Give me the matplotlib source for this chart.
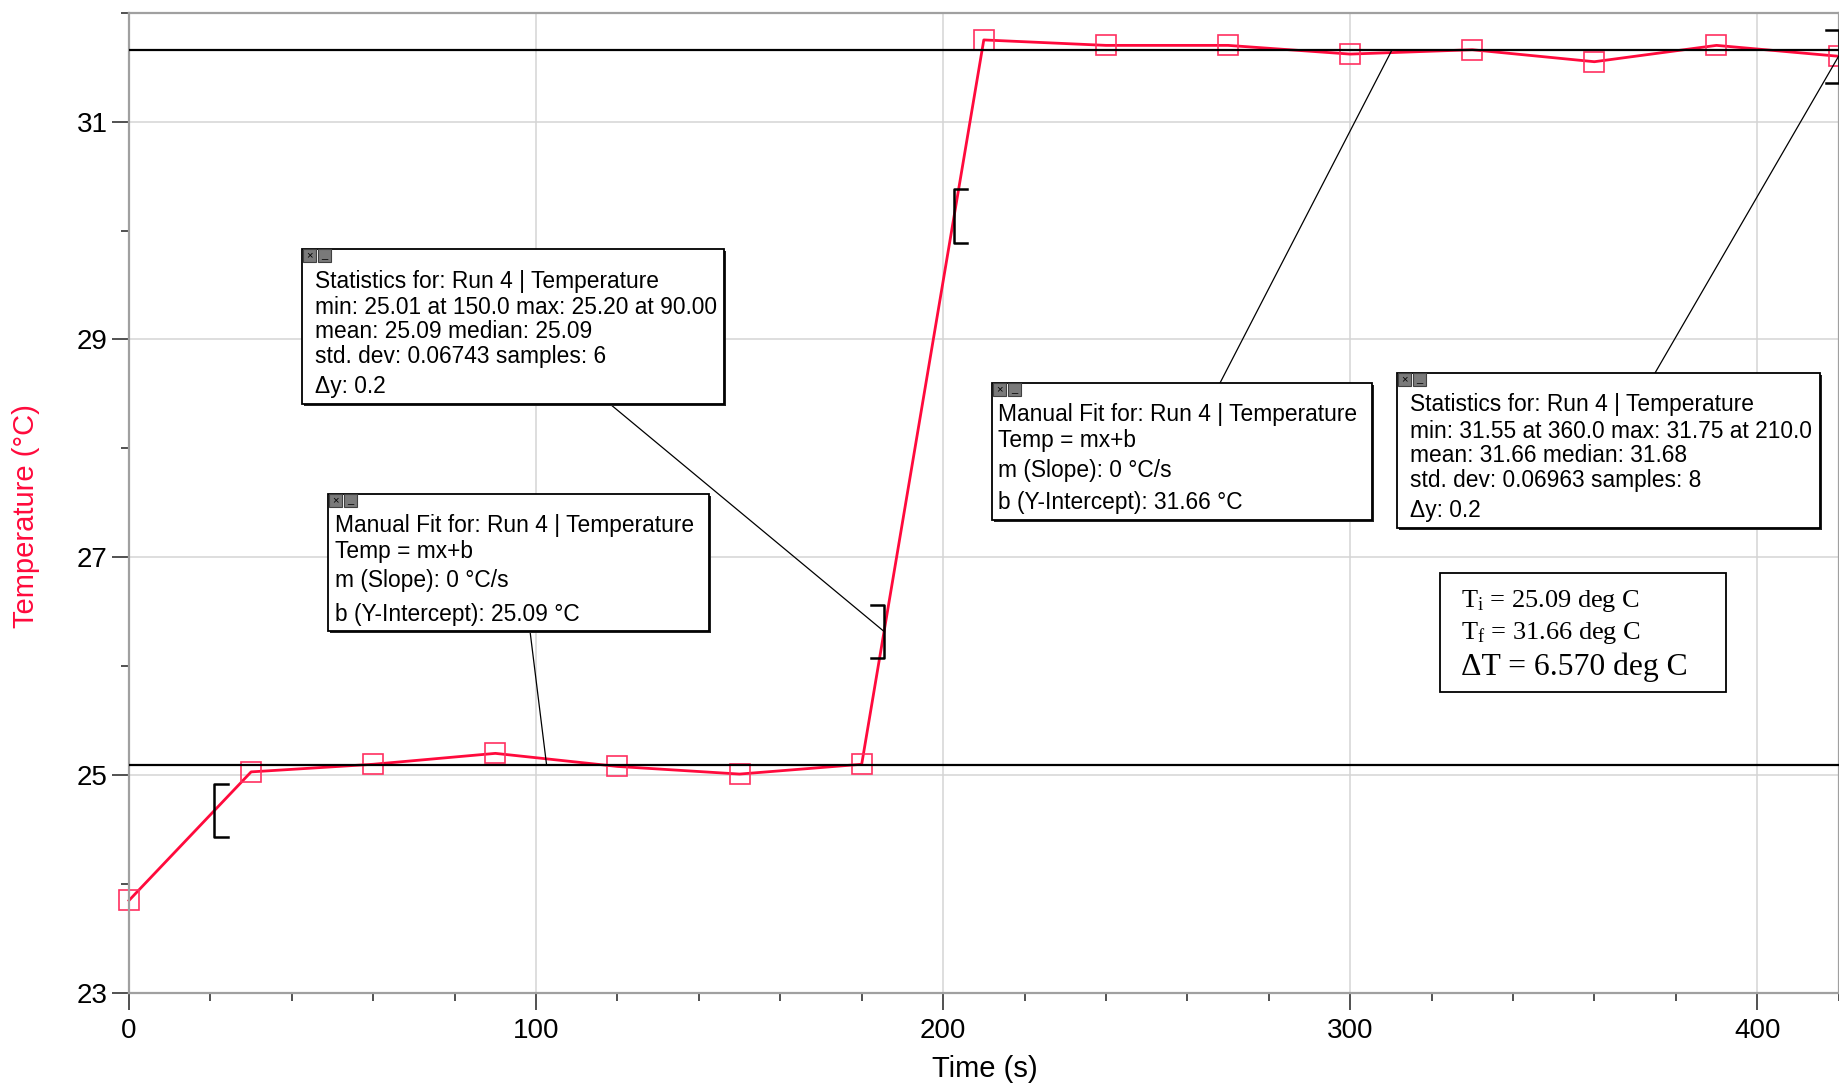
import numpy as np
import matplotlib
matplotlib.use('Agg')
import matplotlib.pyplot as plt
from matplotlib.patches import Rectangle

plt.rcParams['font.family'] = ['Liberation Sans', 'DejaVu Sans']
plt.rcParams['mathtext.fontset'] = 'custom'
plt.rcParams['mathtext.rm'] = 'Liberation Serif'
plt.rcParams['mathtext.it'] = 'Liberation Serif:italic'

"(1) data read off the run"
time_s = [0, 30, 60, 90, 120, 150, 180, 210, 240, 270, 300, 330, 360, 390, 420]
temp_c = [23.85, 25.03, 25.10, 25.20, 25.08, 25.01, 25.10,
          31.75, 31.70, 31.70, 31.62, 31.66, 31.55, 31.70, 31.60]

fit_b = [25.09, 31.66]                     # manual fits (slope 0)
sel_1 = [21.0, 185.5]                      # statistics selection 1 (s)
sel_2 = [202.7, 420.0]                     # statistics selection 2 (s)
fit_hook = [102.6, 310.3]                  # where the fit callouts touch the lines

x_major = [0, 100, 200, 300, 400]
y_major = [23, 25, 27, 29, 31]

stats_1 = ['Statistics for: Run 4 | Temperature',
           'min: 25.01 at 150.0 max: 25.20 at 90.00',
           'mean: 25.09 median: 25.09',
           'std. dev: 0.06743 samples: 6',
           '\u0394y: 0.2']
stats_2 = ['Statistics for: Run 4 | Temperature',
           'min: 31.55 at 360.0 max: 31.75 at 210.0',
           'mean: 31.66 median: 31.68',
           'std. dev: 0.06963 samples: 8',
           '\u0394y: 0.2']
fit_1 = ['Manual Fit for: Run 4 | Temperature', 'Temp = mx+b',
         'm (Slope): 0 \u00b0C/s', 'b (Y-Intercept): 25.09 \u00b0C']
fit_2 = ['Manual Fit for: Run 4 | Temperature', 'Temp = mx+b',
         'm (Slope): 0 \u00b0C/s', 'b (Y-Intercept): 31.66 \u00b0C']
summary = [r'T$_\mathrm{i}$ = 25.09 deg C', r'T$_\mathrm{f}$ = 31.66 deg C',
           '\u0394T = 6.570 deg C']

"(2) figure"
W, H = 1840, 1091
fig = plt.figure(figsize=(W / 100, H / 100), dpi=100)
ax = fig.add_axes([129 / W, 98 / H, (1838.6 - 129) / W, (993 - 12.7) / H])


def fx(x, y):
    # pixel (from top-left) -> figure fraction
    return x / W, 1 - y / H


red = '#ff0a3c'
ax.plot(time_s, temp_c, color=red, lw=2, zorder=2, clip_on=False)
ax.plot(time_s, temp_c, ls='none', marker='s', ms=14, mfc='none',
        mec='#ff3060', mew=1.2, zorder=2, clip_on=False)
for b in fit_b:
    ax.axhline(b, color='black', lw=1.6, zorder=3)

ax.set_xlim(0, 420)
ax.set_ylim(23, 32)
ax.set_xticks(x_major)
ax.set_xticks(np.arange(0, 421, 20), minor=True)
ax.set_yticks(y_major)
ax.set_yticks([24, 26, 28, 30, 32], minor=True)
ax.grid(True, which='major', color='#d4d4d4', lw=1.1)
ax.set_axisbelow(True)
ax.tick_params(which='major', length=12, width=1.2, color='#333333',
               labelsize=20, direction='out')
ax.tick_params(which='minor', length=6, width=1.2, color='#333333', direction='out')
ax.tick_params(axis='y', pad=3.5)
ax.tick_params(axis='x', pad=6)
for s in ax.spines.values():
    s.set_color('#a0a0a0')
    s.set_linewidth(1.6)

ax.set_xlabel('Time (s)', fontsize=21)
ax.set_ylabel('Temperature (\u00b0C)', fontsize=21, color=red)
ax.xaxis.label.set_va('center')
ax.yaxis.label.set_va('center')
ax.xaxis.set_label_coords(0.5005, -0.0775)
ax.yaxis.set_label_coords(-0.060, 0.487)

"(3) selection brackets on the data line"
half_h, arm = 0.245, 3.2
for x0, x1 in [sel_1, sel_2]:
    for xb, d in [(x0, 1), (x1, -1)]:
        yb = np.interp(xb, time_s, temp_c)
        ax.plot([xb + d * arm, xb, xb, xb + d * arm],
                [yb + half_h, yb + half_h, yb - half_h, yb - half_h],
                color='black', lw=1.8, zorder=4, clip_on=False)


"(4) annotation boxes"
def draw_box(x0, y0, x1, y1, lines, offsets, pad, size=16.4):
    fig.patches.append(Rectangle(fx(x0 + 2, y1 + 2), (x1 - x0) / W, (y1 - y0) / H,
                                 transform=fig.transFigure, facecolor='#222222',
                                 edgecolor='none', zorder=1))
    fig.patches.append(Rectangle(fx(x0, y1), (x1 - x0) / W, (y1 - y0) / H,
                                 transform=fig.transFigure, facecolor='white',
                                 edgecolor='black', lw=1.3, zorder=1.1))
    # little close / minimise buttons
    for i, g in enumerate(['\u00d7', '_']):
        bx = x0 + 1 + i * 15
        fig.patches.append(Rectangle(fx(bx, y0 + 13), 13 / W, 13 / H,
                                     transform=fig.transFigure, facecolor='#7a7a7a',
                                     edgecolor='#404040', lw=0.8, zorder=1.2))
        fig.text(*fx(bx + 6.5, y0 + 6.5), g, fontsize=8, ha='center', va='center',
                 color='black', zorder=1.3)
    for t, o in zip(lines, offsets):
        fig.text(*fx(x0 + pad, y0 + o), t, fontsize=size, ha='left', va='center',
                 color='black', zorder=1.3)


stat_off = [32, 58, 83, 108, 137]
fit_off = [32, 57.5, 87, 120]
draw_box(302, 249, 724, 404, stats_1, stat_off, 13)
draw_box(328, 494, 709, 631, fit_1, fit_off, 7)
draw_box(992, 383, 1372, 520, fit_2, fit_off, 6)
draw_box(1397, 373, 1820, 528, stats_2, stat_off, 13)

# callout leader lines
kw = dict(textcoords='figure fraction', zorder=5,
          arrowprops=dict(arrowstyle='-', lw=0.9, color='black', shrinkA=0, shrinkB=0))
ax.annotate('', xy=(sel_1[1], np.interp(sel_1[1], time_s, temp_c)), xytext=fx(610, 404), **kw)
ax.annotate('', xy=(fit_hook[0], fit_b[0]), xytext=fx(530, 631), **kw)
ax.annotate('', xy=(fit_hook[1], fit_b[1]), xytext=fx(1220, 383), **kw)
ax.annotate('', xy=(sel_2[1], np.interp(sel_2[1], time_s, temp_c)), xytext=fx(1655, 373), **kw)

# summary box
fig.patches.append(Rectangle(fx(1440, 692), 286 / W, 119 / H, transform=fig.transFigure,
                             facecolor='white', edgecolor='black', lw=1.3, zorder=1.1))
for t, yy, sz in zip(summary, [601, 633, 667], [19, 19, 22.8]):
    fig.text(*fx(1461, yy), t, fontsize=sz, family='Liberation Serif',
             ha='left', va='center', zorder=1.3)

plt.savefig('out.png', dpi=100)
